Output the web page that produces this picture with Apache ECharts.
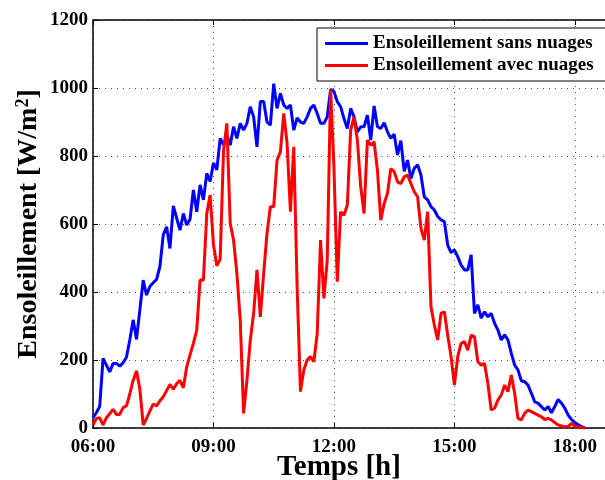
<!DOCTYPE html>
<html>
<head>
<meta charset="utf-8">
<script src="https://cdn.jsdelivr.net/npm/echarts@6/dist/echarts.min.js"></script>
<style>html,body{margin:0;padding:0;background:#fff;}#c{width:605px;height:480px;}</style>
</head>
<body>
<div id="c"></div>
<script>
// Data: 5-minute samples starting at 06:00
const startHour = 6;
const stepMinutes = 5;
const seriesNames = ['Ensoleillement sans nuages', 'Ensoleillement avec nuages'];
const xTickLabels = ['06:00', '09:00', '12:00', '15:00', '18:00'];
const yTickLabels = ['0', '200', '400', '600', '800', '1000', '1200'];

const clearSky = [
  30, 45, 63, 205, 185, 165, 190, 190, 182, 192,
  208, 259, 318, 261, 347, 435, 391, 416, 427, 437,
  475, 568, 592, 528, 653, 617, 582, 631, 597, 614,
  700, 636, 715, 671, 749, 725, 780, 759, 852, 832,
  861, 832, 886, 852, 896, 876, 896, 945, 915, 827,
  960, 960, 900, 891, 1013, 940, 984, 950, 940, 950,
  876, 912, 900, 896, 915, 940, 950, 925, 896, 896,
  915, 996, 990, 960, 945, 910, 881, 940, 915, 871,
  886, 886, 920, 847, 947, 886, 881, 898, 871, 852,
  864, 803, 845, 755, 788, 734, 764, 774, 744, 680,
  671, 651, 641, 622, 612, 607, 538, 516, 524, 504,
  479, 465, 465, 509, 337, 362, 323, 342, 327, 337,
  308, 288, 259, 274, 259, 220, 185, 171, 139, 136,
  126, 102, 77, 73, 63, 53, 63, 45, 63, 84,
  73, 58, 38, 25, 16, 9, 4, 0
];

const cloudy = [
  9, 28, 30, 9, 30, 42, 55, 40, 40, 60,
  65, 100, 140, 168, 115, 9, 28, 50, 70, 65,
  80, 92, 110, 128, 114, 130, 140, 118, 180, 215,
  249, 288, 435, 435, 631, 685, 540, 477, 496, 815,
  896, 602, 553, 455, 317, 43, 140, 258, 337, 465,
  327, 455, 572, 651, 651, 788, 812, 925, 837, 636,
  827, 415, 107, 171, 200, 210, 195, 278, 553, 381,
  494, 996, 768, 430, 636, 626, 656, 876, 915, 847,
  710, 631, 847, 832, 842, 758, 611, 660, 690, 763,
  754, 724, 719, 739, 744, 719, 695, 680, 587, 553,
  636, 357, 303, 259, 337, 342, 273, 210, 126, 210,
  249, 254, 229, 273, 269, 195, 185, 190, 131, 53,
  58, 82, 97, 126, 107, 156, 102, 28, 24, 43,
  53, 48, 43, 38, 33, 25, 28, 24, 16, 9,
  6, 4, 4, 14, 4, 4, 1, 0
];

const toPairs = arr => arr.map((v, i) => [startHour + i * stepMinutes / 60, v]);
const FONT = '"Liberation Serif", "Times New Roman", serif';

function xLabel(v) {
  const h = Math.round(v);
  if (Math.abs(v - h) > 1e-6 || (h - startHour) % 3 !== 0) return '';
  return xTickLabels[(h - startHour) / 3] || '';
}
function yLabel(v) {
  const k = Math.round(v / 200);
  return yTickLabels[k] !== undefined ? yTickLabels[k] : '';
}

const chart = echarts.init(document.getElementById('c'), null, {renderer: 'canvas'});
chart.setOption({
  animation: false,
  backgroundColor: '#fff',
  grid: {left: 93, top: 20, bottom: 52, right: -2, show: false, containLabel: false, outerBoundsMode: 'none'},
  legend: {
    orient: 'vertical',
    left: 317, top: 28,
    padding: [6, 40, 6, 8],
    itemGap: 3,
    icon: 'rect',
    itemWidth: 43, itemHeight: 3,
    backgroundColor: '#fff',
    borderColor: '#000', borderWidth: 1, borderRadius: 0,
    textStyle: {fontFamily: FONT, fontWeight: 'bold', fontSize: 19, color: '#000', lineHeight: 19},
    data: seriesNames
  },
  xAxis: [{
    type: 'value', min: 6, max: 18.8, interval: 3,
    name: 'Temps [h]', nameLocation: 'middle', nameGap: 25, nameMoveOverlap: false,
    nameTextStyle: {fontFamily: FONT, fontWeight: 'bold', fontSize: 29, color: '#000', padding: [0, 22, 0, 0]},
    axisLine: {show: true, onZero: false, lineStyle: {color: '#000', width: 1.5}},
    axisTick: {show: true, inside: true, length: 5, lineStyle: {color: '#000'}},
    axisLabel: {fontFamily: FONT, fontWeight: 'bold', fontSize: 19, color: '#000', margin: 10, formatter: xLabel, showMaxLabel: false},
    splitLine: {show: true, lineStyle: {color: '#555', width: 1, type: [1, 5]}}
  }, {
    type: 'value', min: 6, max: 18.8, interval: 3, position: 'top',
    axisLine: {show: true, onZero: false, lineStyle: {color: '#000', width: 1.5}},
    axisTick: {show: true, inside: true, length: 5, lineStyle: {color: '#000'}},
    axisLabel: {show: false},
    splitLine: {show: false}
  }],
  yAxis: {
    type: 'value', min: 0, max: 1200, interval: 200,
    name: 'Ensoleillement [W/m{sup|2}]', nameLocation: 'middle', nameGap: 49, nameMoveOverlap: false,
    nameTextStyle: {
      fontFamily: FONT, fontWeight: 'bold', fontSize: 28, color: '#000',
      rich: {sup: {fontFamily: FONT, fontWeight: 'bold', fontSize: 18, color: '#000', verticalAlign: 'bottom', padding: [0, 0, 12, 0]}}
    },
    axisLine: {show: true, onZero: false, lineStyle: {color: '#000', width: 1.5}},
    axisTick: {show: true, inside: true, length: 5, lineStyle: {color: '#000'}},
    axisLabel: {fontFamily: FONT, fontWeight: 'bold', fontSize: 19, color: '#000', margin: 5, formatter: yLabel},
    splitLine: {show: true, lineStyle: {color: '#555', width: 1, type: [1, 5]}}
  },
  series: [{
    name: seriesNames[0], type: 'line', xAxisIndex: 0, symbol: 'none',
    data: toPairs(clearSky),
    lineStyle: {color: '#0000ff', width: 3}, itemStyle: {color: '#0000ff'}
  }, {
    name: seriesNames[1], type: 'line', xAxisIndex: 0, symbol: 'none',
    data: toPairs(cloudy),
    lineStyle: {color: '#ff0000', width: 3}, itemStyle: {color: '#ff0000'}
  }]
});
</script>
</body>
</html>
